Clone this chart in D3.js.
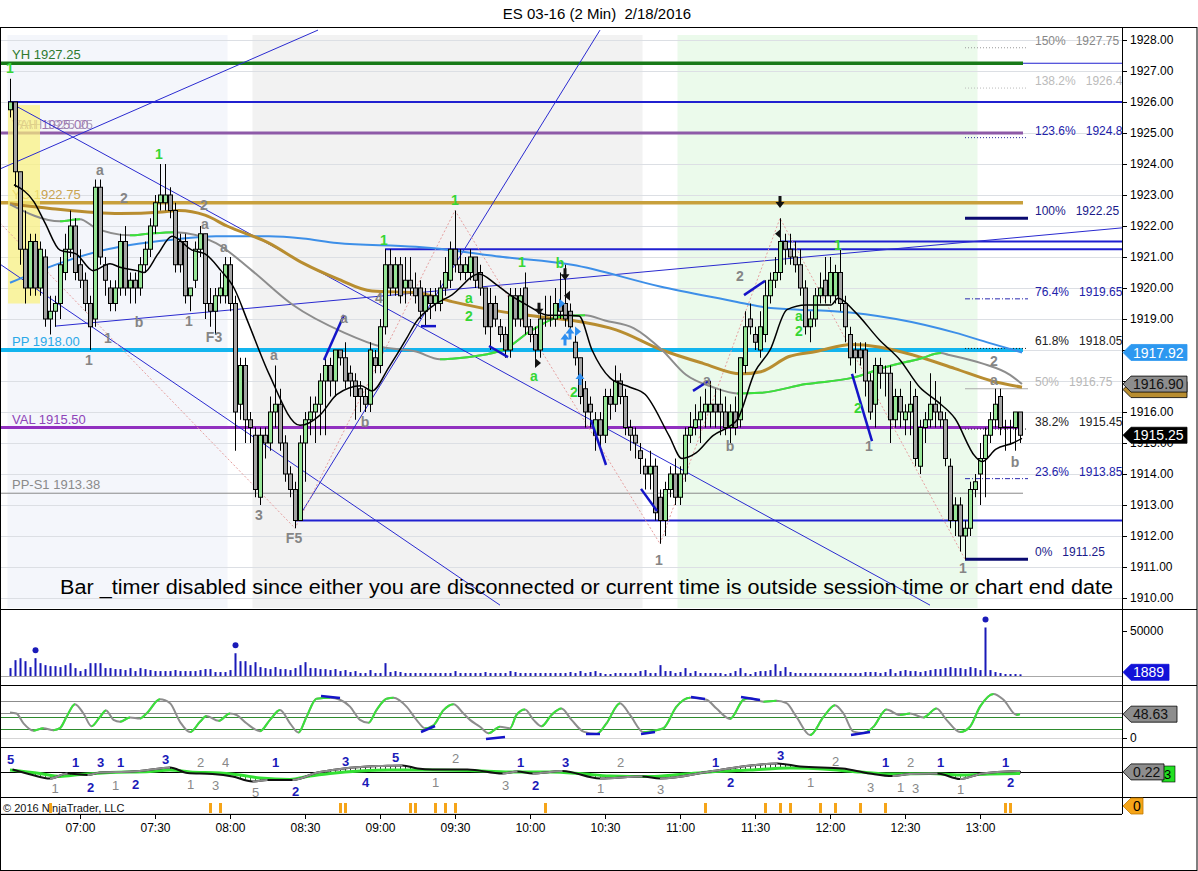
<!DOCTYPE html>
<html><head><meta charset="utf-8">
<script src="https://cdn.jsdelivr.net/npm/d3@7/dist/d3.min.js"></script>
<style>body{margin:0;background:#fff}svg{font-family:"Liberation Sans",Arial,sans-serif}</style>
</head><body><svg id="c" width="1198" height="871"></svg>
<script>
// ================= DATA =================
const chartTitle = "ES 03-16 (2 Min)\u00a0\u00a02/18/2016";
const firstBarTime = new Date(2016,1,18,6,32);   // bars every 2 minutes
const opens  = [1925.75,1926,1923.75,1921.25,1920,1921.5,1920,1921,1919,1919.25,1919.5,1920.5,1921.25,1922,1920.75,1920.25,1919.5,1919,1923.25,1920.75,1920,1919.5,1920,1921.5,1920,1920.25,1920,1920.75,1921.25,1922,1922.75,1922.75,1923,1922.5,1921.5,1921.5,1919.75,1920.25,1921.25,1921.75,1919.5,
1919.25,1919.75,1919.75,1920.75,1919.5,1916.25,1917.5,1915.75,1915.25,1913.25,1915.25,1915,1916,1916.25,1915,1914,1913.5,1912.5,1915,1915.75,1916,1916.25,1917,1917.5,1917,1918,1917.75,1917.25,1917,1916.75,1916.5,1916.25,1917.75,1917.5,1918.75,1920.75,1920,1920.75,1920,
1920.25,1920,1920,1919.25,1919.75,1919.5,1919.5,1920,1920.25,1921.25,1920.75,1920.5,1920.5,1921,1920.5,1920,1919.5,1919.5,1918.75,1918.5,1918,1919.75,1919,1920,1918.75,1918.5,1918,1919,1919,1919,1919.5,1919.5,1919.25,1918.25,1917.75,1916.75,1916.25,1915.25,1915.75,1915.25,
1916.5,1916.25,1917,1916.5,1915.5,1915.25,1914.75,1914.25,1914,1914.25,1913.25,1912.5,1913.5,1914,1913.25,1914,1915.25,1915.5,1915.75,1916,1916,1916.25,1916.25,1916,1915.5,1916,1915.75,1917.5,1919,1918.5,1918,1918.5,1919.75,1920.25,1920.5,1921.5,1921.25,1921,1920.75,1920,
1918.75,1919,1919.75,1920.25,1919.75,1919.75,1920.5,1919.5,1918.5,1918,1918,1918,1917,1916.25,1917.5,1917.25,1917.25,1915.75,1916.5,1915.75,1916,1916.5,1914.25,1915.5,1915.75,1916.25,1916,1915.75,1914.25,1912.5,1913,1912,1912.25,1913.5,1914,1914.5,1915.25,1915.75,1916.5,1915.5,1915.5,1915.5,1916];
const highs  = [1926.75,1926,1923.75,1922.5,1921.75,1921.75,1921.5,1921.25,1919.75,1919.75,1921,1921.75,1922.5,1922.25,1921.25,1920.5,1919.75,1923.5,1923.5,1921,1920.25,1920.25,1921.75,1922,1920.5,1920.5,1921,1921.5,1922.25,1923,1924,1924,1923.25,1922.75,1921.75,1921.75,1920,1921.5,1922,1921.75,1920,
1920,1920.5,1921,1921,1919.75,1917.75,1917.75,1916,1915.5,1915.5,1915.5,1916.5,1917.5,1916.75,1915.25,1914.25,1913.75,1915.25,1916,1916.5,1916.5,1917.25,1917.75,1917.75,1918,1918,1918.25,1917.5,1917.25,1917,1916.75,1918.25,1918,1919,1921.25,1921.25,1921,1921,1921,
1921,1920.5,1920.25,1920,1920,1920,1920.25,1921,1921.5,1922.5,1921.25,1921,1921.25,1921,1920.75,1920,1920,1919.75,1919,1918.75,1920,1920,1920,1920.5,1919,1918.75,1919.25,1919.75,1919.75,1920,1920.5,1920.75,1919.5,1918.5,1917.75,1917,1916.5,1916,1916,1916.75,
1916.75,1917.5,1917.25,1916.75,1915.75,1915.5,1915,1914.5,1914.75,1914.5,1913.5,1913.75,1914.25,1914.5,1914.25,1915.5,1916,1916.25,1916.5,1916.75,1917,1916.75,1916.75,1916.5,1916.25,1916.5,1917.75,1919.25,1919.5,1918.75,1919.25,1920.25,1920.5,1921,1922.25,1921.75,1921.75,1921.5,1921.25,1920.25,
1919.25,1920,1920.5,1921,1921,1920.75,1921.25,1919.75,1918.75,1918.25,1918.25,1918.25,1917.25,1917.75,1917.75,1917.5,1917.5,1916.75,1916.75,1916.25,1917,1916.75,1915.75,1916,1917.25,1917,1916.5,1916,1914.5,1913.25,1913.25,1912.5,1913.75,1914,1915,1915.5,1916,1916.75,1916.75,1915.75,1915.75,1916,1916];
const lows   = [1925.5,1923.25,1920.75,1919.5,1919.75,1919.75,1919.75,1918.75,1918.5,1918.75,1919,1920.25,1921,1920.25,1920,1919.25,1918,1918.75,1920.75,1919.75,1919.25,1919.25,1919.75,1919.75,1919.5,1919.5,1919.75,1920.5,1921,1921.75,1922.5,1922.5,1922.25,1920.5,1920.5,1919.5,1919.25,1920,1921,1919,1918.75,
1918.5,1919.5,1919.5,1919.25,1914.75,1915.75,1915,1915,1913.25,1913,1914.5,1914.75,1915.5,1914.75,1913.75,1913.25,1912.25,1912.5,1913.75,1915.25,1915,1915.25,1915.25,1916.5,1916.5,1917.5,1916.75,1916.5,1915.75,1916,1916,1916,1917.25,1917.25,1918.5,1919.75,1919.75,1919.5,1919.5,
1919.75,1919.5,1919,1918.75,1919,1919.25,1919.25,1919.75,1920,1920.5,1920.25,1920.25,1920.25,1920,1919.75,1918.5,1918,1918.75,1918.25,1917.75,1917.75,1918.75,1918.75,1918.5,1918.25,1917.5,1917.75,1918.75,1918.75,1918.75,1919,1918.75,1918.5,1917.5,1916.25,1915.5,1915.5,1914.75,1914.75,1915,
1915.75,1916,1916.25,1915.25,1914.75,1914.5,1914,1913.5,1913.5,1912.5,1911.75,1912,1913.25,1913,1913,1913.75,1915,1915.25,1915,1915.5,1915.5,1915.5,1915.25,1915.25,1915,1915.25,1915.5,1917.25,1918.5,1918,1917.75,1918.25,1919.5,1920,1920.25,1920.75,1920.75,1920.5,1919.75,1918.5,
1918.25,1918.75,1919.5,1919.5,1919.5,1919.5,1919.25,1918.25,1917.5,1917.25,1917.5,1916.5,1915.75,1915.5,1916.75,1916.5,1915,1915.5,1915.5,1915.25,1915.25,1914.25,1914,1915,1915.5,1915.5,1915.5,1914.25,1912.25,1912,1911.5,1911.25,1912,1913.25,1913,1913.25,1915,1915.5,1915.25,1914.75,1915,1914.75,1915];
const closes = [1926,1923.75,1921.25,1920,1921.5,1920,1921.25,1919,1919.25,1919.5,1920.75,1921.25,1922,1920.5,1920.25,1919.5,1918.75,1923.25,1921,1920.25,1919.5,1920,1921.5,1920,1920.25,1920,1920.75,1921.25,1922,1922.75,1923,1923,1922.5,1920.75,1920.75,1919.75,1920,1921.25,1921.75,1919.5,1919.25,
1919.75,1920,1920.75,1919.5,1916,1917.5,1915.75,1915.5,1913.5,1915.25,1915,1916,1916.25,1915,1914,1913.5,1912.5,1915,1915.75,1916,1916.25,1917,1917.5,1917,1918,1917.75,1917,1917,1916.5,1916.5,1916.25,1918,1917.5,1918.75,1920.75,1920,1920.75,1919.75,1920.25,
1920,1919.75,1919.25,1919.75,1919.5,1919.75,1920,1920.5,1921.25,1920.75,1920.5,1920.75,1921,1920.25,1920,1918.75,1918.75,1919,1918.5,1918,1919.75,1919,1919.75,1918.75,1918.5,1918,1919,1919,1919,1919.5,1919.25,1919,1918.75,1917.75,1916.5,1916,1916,1915.75,1915.25,1916.5,
1916.25,1917,1916.5,1915.5,1915.25,1915,1914.5,1914,1914.25,1912.75,1912.5,1913.5,1914,1913.25,1914,1915.25,1915.5,1915.75,1916,1916.25,1916.25,1916,1916,1915.5,1916,1915.5,1917.75,1918.75,1918.75,1918.25,1918.75,1919.75,1920.25,1920.5,1921.5,1921.25,1921,1920.75,1920,1918.75,
1919,1919.75,1920,1919.75,1920.5,1920.5,1919.5,1918.75,1917.75,1917.75,1917.75,1917,1916,1917.5,1917.25,1917.25,1915.75,1916.5,1916,1916,1916.25,1914.5,1915.5,1915.75,1916.25,1916,1915.75,1914.5,1912.5,1913,1912,1912.25,1913.5,1913.75,1914.5,1915.25,1915.75,1916.25,1915.5,1915.5,1915.5,1916,1915.25];
const volumes = [8800,17600,19800,16500,9900,19800,14300,12100,11000,11000,9900,12100,14300,8800,5500,7700,14300,14300,14300,8800,
8800,7700,7700,6600,8800,5500,8800,7700,6600,5500,5500,5500,5500,6600,5500,5500,5500,5500,6600,7700,
7700,4400,4400,4400,6600,25300,16500,16500,12100,15400,9900,8800,7700,9900,7700,7700,6600,8800,12100,15400,
8800,8800,7700,7700,6600,7700,5500,6600,4400,5500,3300,3300,6600,3300,3300,14300,4400,5500,4400,3300,
3300,3300,3300,3300,3300,3300,3300,3300,3300,5500,3300,3300,3300,3300,3300,4400,3300,3300,3300,3300,5500,4400,
3300,3300,3300,3300,3300,3300,3300,3300,3300,3300,4400,3300,
5500,3300,4400,5500,3300,2200,2200,3300,3300,3300,3300,3300,5500,6600,3300,3300,12100,5500,5500,3300,
4400,8800,3300,5500,3300,3300,3300,3300,3300,2200,3300,5500,8800,3300,2200,4400,5500,5500,6600,13200,
5500,9900,4400,3300,3300,3300,3300,3300,3300,3300,3300,3300,3300,3300,3300,3300,3300,4400,4400,4400,
3300,4400,7700,3300,5500,6600,5500,5500,4400,5500,6600,7700,7700,8800,9900,8800,8800,7700,9900,8800,
6600,53900,6600,4400,3300,2200,2200,2200,1889];
const volumeSpikeBars = [5,45,195];
// moving averages: [bar index, price]
const maBlack = [[0.8,1923.33],[4.8,1922.78],[7,1922.1],[10,1921.22],[13.2,1921.1],[16.6,1920.56],[20,1920.78],[22,1920.67],[25.4,1920.56],[26.8,1920.5],[29.6,1921.1],[32.4,1921.67],[36.4,1921.22],[39,1921.1],[42.2,1920.56],[44.8,1920],[47.6,1918.9],[51.8,1917.23],[58,1915.57],[62,1915.9],[65.4,1916.57],[70.2,1916.85],[72.4,1916.68],[75.8,1917.45],[79.2,1918.34],[81.2,1918.9],[84.8,1919.45],[88.4,1919.78],[93.8,1920.45],[97.2,1920.12],[100,1919.78],[103.4,1919.45],[107.6,1919.12],[111,1919.12],[113.8,1919.1],[116.4,1918],[120,1917.1],[124,1916.8],[127,1916.57],[131.8,1915.24],[134.4,1914.5],[137.2,1914.68],[140.6,1915.24],[144.2,1915.57],[145.4,1915.74],[149,1917.3],[152,1918],[155.4,1919.3],[159.2,1919.45],[164.2,1919.45],[165.6,1919.67],[169,1919.23],[173.8,1918.34],[178,1917.68],[182,1916.79],[185.4,1916.35],[189,1915.79],[193,1914.57],[194.4,1914.4],[197.2,1914.8],[200.6,1915],[202.4,1915.15]];
const maGray = [[0,1922.7],[10,1922.15],[14,1922.22],[17,1921.95],[24,1921.7],[27.6,1921.75],[33,1921.8],[41.2,1921.45],[48.4,1920.56],[56.6,1919.45],[66.8,1918.56],[74.4,1918.1],[81.2,1917.95],[86,1917.7],[88.4,1917.72],[98.6,1918],[104,1918.6],[111,1919.1],[115,1919.12],[119,1918.95],[124.8,1918.7],[130.4,1918],[135.2,1917.2],[140.6,1916.8],[145.4,1916.6],[150,1916.62],[159.2,1916.9],[168.4,1917.1],[175.2,1917.45],[182,1917.72],[186.2,1917.9],[187.6,1917.85],[194.4,1917.57],[200,1917.2],[202.4,1916.9]];
const maGold = [[0,1922.72],[8.4,1922.56],[22,1922.4],[30.4,1922.45],[33.8,1922.5],[39,1922.35],[43.4,1922],[51.8,1921.45],[58.6,1920.8],[65.4,1920.3],[72.4,1919.9],[81.2,1919.85],[88.4,1919.56],[98.6,1919.23],[106.8,1919.06],[114.4,1918.9],[121.2,1918.65],[130.4,1918],[138.6,1917.57],[146.2,1917.23],[150.2,1917.3],[155.8,1917.79],[161.2,1917.95],[168.4,1918.18],[173.8,1918.1],[180.6,1917.84],[189,1917.4],[196.4,1917],[202.4,1916.8]];
const maBlue = [[0,1920.17],[9.6,1920.78],[18.6,1921.22],[24,1921.39],[32.4,1921.56],[41.2,1921.67],[51.8,1921.67],[58.6,1921.6],[65.4,1921.45],[81.2,1921.33],[84.8,1921.28],[98.6,1921],[112.4,1920.75],[130,1920.05],[145.4,1919.55],[150,1919.4],[157.8,1919.3],[164.8,1919.25],[177.2,1919],[189,1918.56],[195.8,1918.23],[202.4,1917.92]];
const levelNames  = ["YH","VAH","YC","PP","VAL","PP-S1"];
const levelPrices = [1927.25,1925.00,1922.75,1918.00,1915.50,1913.38];
const blueLevels = [[1927.25,-2],[1926.0,-0.4],[1921.5,154],[1921.25,75],[1912.5,57]]; // [price, from bar]
const fibPct   = ["150%","138.2%","123.6%","100%","76.4%","61.8%","50%","38.2%","23.6%","0%"];
const fibPrice = [1927.75,1926.45,1924.85,1922.25,1919.65,1918.05,1916.75,1915.45,1913.85,1911.25];
const fibText  = ["1927.75","1926.4","1924.8","1922.25","1919.65","1918.05","1916.75","1915.45","1913.85","1911.25"];
const fibBars = [191,203.6];
const trendLines = [[[-2,1923.84],[61.6,1928.32]],[[57.4,1912.52],[118,1928.32]],[[0.4,1925.94],[184,1909.77]],[[-2,1920.77],[98,1909.77]],[[9,1918.77],[222.4,1921.94]]];
const zigzag = [[-2,1922.1],[57,1912.25],[89,1922.5],[130,1911.75],[154,1922.25],[191,1911.25]];
const divergenceMain = [[[62.8,1917.68],[66.8,1919.13]],[[82.2,1918.77],[85.2,1918.77]],[[95.8,1918.13],[99.6,1917.77]],[[116.2,1915.74],[119.2,1914.29]],[[126.2,1913.52],[129.4,1912.81]],[[136.6,1916.68],[140,1917.03]],[[146.8,1919.77],[151,1920.23]],[[168.4,1917.23],[172.4,1915.06]]];
const grayLabels = [[15.8,1917.68,"1"],[18,1923.81,"a"],[22.8,1922.9,"2"],[25.8,1918.9,"b"],[19.6,1918.39,"1"],[35.8,1918.94,"1"],[38.8,1922.68,"2"],[39,1922.06,"a"],[40.8,1918.42,"F3"],[42.8,1921.32,"a"],[52.8,1917.84,"a"],[49.8,1912.68,"3"],[56.8,1911.94,"F5"],[73.8,1919.68,"4"],[66.8,1919.03,"a"],[71,1915.68,"b"],[129.8,1911.23,"1"],[139.4,1917.03,"a"],[144,1914.9,"b"],[146,1920.39,"2"],[171.8,1914.9,"1"],[196.8,1917.65,"2"],[196.8,1917.03,"a"],[201,1914.39,"b"],[190.6,1910.97,"1"]];
const greenLabels = [[0,1927.1,"1"],[29.8,1924.32,"1"],[74.8,1921.55,"1"],[89,1922.84,"1"],[91.8,1919.68,"a"],[91.8,1919.1,"2"],[102.4,1920.84,"1"],[110,1920.81,"b"],[104.8,1917.16,"a"],[112.8,1916.65,"2"],[157.8,1919.1,"a"],[157.8,1918.61,"2"],[165.6,1921.39,"1"],[169.6,1916.13,"2"]];
const downArrows = [[154,1922.68],[111,1920.35],[105.8,1919.23]];
const leftTriangles = [[111.6,1919.75],[153.8,1921.75]];
const blueUpArrows = [[111,1918.4],[112,1918.6],[114,1917.13]];
const blueRightTriangles = [[110.2,1919.5],[113.4,1918.6]];
const blackRightTriangles = [[105.4,1917.58]];
// oscillator panel
const oscPoints = [[0,52],[1.3,50],[2.7,30],[4.7,15],[6.7,20],[8.7,16],[10,20],[11.3,43],[13,69],[14.7,50],[16.3,24],[18,43],[19.2,56],[20.7,37],[22,33],[24,42],[26,40],[27.3,50],[30,79],[32,71],[34,33],[36,12],[38,33],[39.3,45],[41.7,35],[44,50],[45.3,47],[47.3,30],[50,14],[52,37],[54,57],[56,30],[57.7,11],[59.3,43],[61.3,80],[64,82],[66,78],[68,64],[70,37],[71.7,31],[73.3,57],[75.3,80],[76.7,82],[79.3,64],[81.3,37],[83,20],[84.7,26],[86.7,57],[88.7,69],[90.7,50],[92,37],[94,23],[95.7,9.5],[98,23],[100,20],[101.3,47],[103,58],[104.7,37],[106.3,24],[108.3,47],[110.3,60],[112.3,37],[114.7,13],[117.3,8],[119.3,30],[122,71],[124,47],[126.7,12],[129.3,16],[130.7,20],[133.3,64],[136,82],[139.3,78],[141.3,60],[144,39],[146.7,78],[148,81],[150.7,74],[153.3,76],[155.3,71],[157.3,43],[160,6],[162.7,43],[165,67],[166.7,50],[168.7,13],[170.7,10],[172.7,23],[175.3,58],[178,47],[180,50],[182.7,42],[185.3,60],[187.3,37],[190,12],[192,23],[194,64],[196.7,90],[198.7,78],[201.3,47],[202,48.63]];
const oscLevels = [75,51,43,18,0];
const oscMarks = [[[62.2,85.7],[66,81.6]],[[82.2,12.2],[85,24.5]],[[95.2,-2],[99,2]],[[115.2,8.2],[118,8.2]],[[126.2,8.2],[129,12.2]],[[136.2,83.7],[139,79.6]],[[146.2,83.7],[150,77.6]],[[168.2,6.1],[172,12.2]]];
// third panel (fast / slow)
const fastPoints = [[0.5,0.5],[4.5,-0.6],[8,-1.3],[11.5,-0.3],[15.5,-0.6],[18,-0.1],[24.5,0.1],[30,0.7],[32,0.9],[35.5,-0.2],[40.5,-0.4],[44.5,-0.9],[48.5,-1.9],[51.5,-1.6],[56.5,-1.6],[61.5,-0.1],[64.5,0.4],[71.5,1.1],[74.5,1.2],[78.5,1.3],[81.5,0.7],[84.5,0.5],[91.5,0.5],[98.5,-0.3],[101.5,0.1],[104.5,-0.3],[110.5,0.2],[118,-1.3],[126.5,-0.9],[130,-1.3],[140,0.1],[146.5,1.1],[153.5,1.7],[158,1.1],[166.5,0.7],[172,-0.3],[176.5,-0.8],[180,-0.4],[185.5,-0.3],[190,-1.4],[194.5,-0.3],[202,0.22]];
const slowPoints = [[0,0.4],[6,-0.3],[10,-0.9],[14,-0.5],[20,-0.1],[28,0.1],[32,0.4],[36,0],[42,-0.2],[46,-0.6],[50,-1.2],[56,-1.5],[60,-0.8],[64,-0.3],[70,0.2],[76,0.4],[84,0.4],[92,0.3],[100,0],[108,0],[114,-0.3],[120,-0.8],[128,-0.9],[134,-0.5],[140,0],[148,0.4],[156,0.8],[164,0.5],[170,0],[176,-0.4],[184,-0.3],[190,-0.6],[196,-0.4],[202,-0.3]];
const waveBlue = [[0.1,2.6,"5"],[13.1,2,"1"],[16.1,-3,"2"],[18.1,2,"3"],[22.1,2,"1"],[25.1,-2.4,"2"],[31.1,2.6,"3"],[53.1,2,"1"],[57.1,-3.8,"2"],[67.1,2.2,"3"],[71.1,-2,"4"],[77.1,3,"5"],[102.1,2,"1"],[105.1,-2.6,"2"],[111.1,2,"3"],[141.1,2,"1"],[144.1,-2,"2"],[154.1,3.4,"3"],[175.1,2,"1"],[186.1,2,"1"],[199.1,2,"1"],[200.1,-2,"2"]];
const waveGray = [[9,-3.2,"1"],[21.1,-2.6,"1"],[36.1,-2.4,"1"],[38.1,2,"2"],[41.1,-2.6,"3"],[43.1,2,"4"],[49.1,-4,"5"],[85.1,-2,"1"],[89.1,2.8,"2"],[99.1,-2.6,"3"],[118.1,-3.2,"1"],[122.1,2,"2"],[130.1,-3.4,"3"],[160.1,-2,"1"],[165.1,2.2,"2"],[172.1,-3,"3"],[178.1,-3,"1"],[180.1,2,"2"],[181.1,-3.2,"3"],[190.1,-3.4,"1"]];
// signal ticks in bottom strip
const signalBars = [8,40,42,66,67,80,81,85,87,89,107,139,151,154,156,162,165,170,175,199,200];
const priceTicks = d3.range(1910,1929,1);
const timeTickLabels = ["07:00","07:30","08:00","08:30","09:00","09:30","10:00","10:30","11:00","11:30","12:00","12:30","13:00"];
const sessions = [["06:31","07:59"],["08:09","10:45"],["10:59","12:59"]];
const lastTags = {blueMA:1917.92, grayMA:1916.90, goldMA:1916.82, close:1915.25, vol:1889, osc:48.63, fast:0.22};
const message = "Bar _timer disabled since either you are disconnected or current time is outside session time or chart end date";

// ================= LAYOUT =================
const svg = d3.select("#c");
const AX = 1122, RIGHT = 1197;
const P = {main:[27,608], vol:[609,685], osc:[685,747], fast:[747,797], sig:[797,814], time:[814,870]};
const day = (hm)=>{const [h,m]=hm.split(":").map(Number);return new Date(2016,1,18,h,m);};
const xTime = d3.scaleTime().domain([day("07:00"),day("13:00")]).range([80,980]);
const xb = i => xTime(new Date(firstBarTime.getTime()+i*120000));
const y  = d3.scaleLinear().domain([1910,1928]).range([598,40]);
const yV = d3.scaleLinear().domain([0,50000]).range([676,631]);
const yO = d3.scaleLinear().domain([0,100]).range([738,689]);
const yF = d3.scaleLinear().domain([-5,5]).range([797,747]);
const defs = svg.append("defs");
function clip(id,y0,y1){defs.append("clipPath").attr("id",id).append("rect").attr("x",0).attr("y",y0).attr("width",AX).attr("height",y1-y0);}
clip("cMain",P.main[0],P.main[1]);clip("cVol",P.vol[0],P.vol[1]);clip("cOsc",P.osc[0],P.osc[1]);clip("cFast",P.fast[0]+1,P.fast[1]);

const UP="#96e496", DOWN="#a3a3a3";

function slopeLine(g,pts,xf,yf,upC,downC,w,id,yr){
  const line=d3.line().x(d=>xf(d[0])).y(d=>yf(d[1])).curve(d3.curveMonotoneX);
  g.append("path").attr("d",line(pts)).attr("fill","none").attr("stroke",downC).attr("stroke-width",w);
  const cp=defs.append("clipPath").attr("id",id);
  for(let k=0;k<pts.length-1;k++) if(pts[k+1][1]>pts[k][1])
    cp.append("rect").attr("x",xf(pts[k][0])).attr("width",xf(pts[k+1][0])-xf(pts[k][0])).attr("y",yr[0]).attr("height",yr[1]-yr[0]);
  g.append("g").attr("clip-path",`url(#${id})`).append("path").attr("d",line(pts)).attr("fill","none").attr("stroke",upC).attr("stroke-width",w);
}

// ================= MAIN PANEL =================
const gM = svg.append("g").attr("clip-path","url(#cMain)");
sessions.forEach((s,k)=>{
  gM.append("rect").attr("x",xTime(day(s[0]))).attr("width",xTime(day(s[1]))-xTime(day(s[0])))
    .attr("y",35).attr("height",P.main[1]-35).attr("fill",["#f4f6fb","#f2f2f2","#ebfaeb"][k]);
});
priceTicks.forEach(p=>gM.append("line").attr("x1",0).attr("x2",AX).attr("y1",Math.round(y(p))+0.5).attr("y2",Math.round(y(p))+0.5).attr("stroke","#dcdfe4"));

const lvlStyle = {YH:["#187a18",3.5,"#2f7a2f"],VAH:["#8e5aa8",3,"#9a72b0"],YC:["#c8a03c",3.5,"#c9a450"],PP:["#12b4ee",4,"#2aa8e8"],VAL:["#9130c0",3,"#8e44b8"],"PP-S1":["#8a8a8a",1,"#8a8a8a"]};
const lastX = xb(closes.length-1)+3;
blueLevels.forEach(([p,b],k)=>{
  gM.append("line").attr("x1",xb(b)).attr("x2",AX).attr("y1",y(p)).attr("y2",y(p)).attr("stroke","#2020d0").attr("stroke-width",k===0?1.2:2);
});
levelNames.forEach((n,k)=>{
  const st=lvlStyle[n], p=levelPrices[k];
  gM.append("line").attr("x1",0).attr("x2",lastX).attr("y1",y(p)).attr("y2",y(p)).attr("stroke",st[0]).attr("stroke-width",st[1]);
  gM.append("text").attr("x",12).attr("y",y(p)-4).attr("font-size",13).attr("fill",st[2]).text(n+" "+p.toFixed(2));
});
gM.append("text").attr("x",15).attr("y",y(1925)-4).attr("font-size",13).attr("fill","#a08cb0").attr("opacity",0.8).text("RAH 1925.25");

// fib
const fibStyle = [["#999","1,2",1,"#888"],["#bbb","1,2",1,"#bbb"],["#2a2a9a","1,2",1,"#2222aa"],["#0a0a70",null,3,"#1a1a8a"],["#2a2ab0","5,2,1,2",1,"#2222aa"],["#222","1,2",1,"#222"],["#aaa",null,1,"#b8b8b8"],["#222","1,2",1,"#222"],["#2a2ab0","5,2,1,2",1,"#2222aa"],["#0a0a70",null,3,"#1a1a8a"]];
fibPrice.forEach((p,k)=>{
  const st=fibStyle[k];
  const l=gM.append("line").attr("x1",xb(fibBars[0])).attr("x2",xb(fibBars[1])).attr("y1",y(p)).attr("y2",y(p)).attr("stroke",st[0]).attr("stroke-width",st[2]);
  if(st[1]) l.attr("stroke-dasharray",st[1]);
  gM.append("text").attr("x",1035).attr("y",y(p)-3).attr("font-size",12).attr("fill",st[3]).text(fibPct[k]+"\u00a0\u00a0 "+fibText[k]);
});

// yellow highlight
gM.append("rect").attr("x",xb(-0.4)).attr("width",xb(6)-xb(-0.4)).attr("y",y(1925.9)).attr("height",y(1919.5)-y(1925.9)).attr("fill","#fbf27a").attr("opacity",0.7);

// trend lines & zigzag
trendLines.forEach(t=>gM.append("line").attr("x1",xb(t[0][0])).attr("y1",y(t[0][1])).attr("x2",xb(t[1][0])).attr("y2",y(t[1][1])).attr("stroke","#2a2ad0").attr("stroke-width",1));
gM.append("path").attr("d",d3.line().x(d=>xb(d[0])).y(d=>y(d[1]))(zigzag)).attr("fill","none").attr("stroke","#e6a0a0").attr("stroke-width",1).attr("stroke-dasharray","2,2");

// MAs
const mline=d3.line().x(d=>xb(d[0])).y(d=>y(d[1])).curve(d3.curveMonotoneX);
gM.append("path").attr("d",mline(maBlue)).attr("fill","none").attr("stroke","#3d8fe8").attr("stroke-width",2);
gM.append("path").attr("d",mline(maGold)).attr("fill","none").attr("stroke","#b88d30").attr("stroke-width",3);
slopeLine(gM,maGray,xb,y,"#3ae23a","#8d8d8d",2,"cGrayMA",P.main);

// candles
const gC=gM.append("g");
closes.forEach((c,i)=>{
  const x=Math.round(xb(i)), o=opens[i];
  gC.append("line").attr("x1",x+0.5).attr("x2",x+0.5).attr("y1",y(highs[i])).attr("y2",y(lows[i])).attr("stroke","#000");
  if(o===c){gC.append("line").attr("x1",x-2).attr("x2",x+3).attr("y1",y(c)).attr("y2",y(c)).attr("stroke","#000");return;}
  const t=y(Math.max(o,c)), b=y(Math.min(o,c));
  gC.append("rect").attr("x",x-1.5).attr("y",t).attr("width",4).attr("height",b-t).attr("fill",c>o?UP:DOWN).attr("stroke","#000").attr("stroke-width",1);
});
gM.append("path").attr("d",mline(maBlack)).attr("fill","none").attr("stroke","#000").attr("stroke-width",1.5);

divergenceMain.forEach(d=>gM.append("line").attr("x1",xb(d[0][0])).attr("y1",y(d[0][1])).attr("x2",xb(d[1][0])).attr("y2",y(d[1][1])).attr("stroke","#1414c8").attr("stroke-width",2.5));

grayLabels.forEach(l=>gM.append("text").attr("x",xb(l[0])).attr("y",y(l[1])).attr("dy","0.36em").attr("text-anchor","middle").attr("font-size",14).attr("font-weight","bold").attr("fill","#858585").text(l[2]));
greenLabels.forEach(l=>gM.append("text").attr("x",xb(l[0])).attr("y",y(l[1])).attr("dy","0.36em").attr("text-anchor","middle").attr("font-size",14).attr("font-weight","bold").attr("fill","#35d635").text(l[2]));

downArrows.forEach(a=>{const x=xb(a[0]),yy=y(a[1]);
  gM.append("path").attr("d",`M${x-1.5},${yy-9}h3v6h3l-4.5,6l-4.5,-6h3z`).attr("fill","#111");});
blueUpArrows.forEach(a=>{const x=xb(a[0]),yy=y(a[1]);
  gM.append("path").attr("d",`M${x-1.5},${yy+8}h3v-6h3l-4.5,-6l-4.5,6h3z`).attr("fill","#2f8ff0");});
leftTriangles.forEach(a=>{const x=xb(a[0]),yy=y(a[1]);
  gM.append("path").attr("d",`M${x-4},${yy}l6,-5v10z`).attr("fill","#111");});
blueRightTriangles.forEach(a=>{const x=xb(a[0]),yy=y(a[1]);
  gM.append("path").attr("d",`M${x+4},${yy}l-6,-5v10z`).attr("fill","#2f8ff0");});
blackRightTriangles.forEach(a=>{const x=xb(a[0]),yy=y(a[1]);
  gM.append("path").attr("d",`M${x+4},${yy}l-6,-5v10z`).attr("fill","#111");});

gM.append("text").attr("x",60).attr("y",594).attr("font-size",20).attr("textLength",1053).attr("lengthAdjust","spacingAndGlyphs").attr("fill","#000").text(message);

// ================= VOLUME =================
const gV=svg.append("g").attr("clip-path","url(#cVol)");
gV.append("line").attr("x1",0).attr("x2",AX).attr("y1",yV(0)+0.5).attr("y2",yV(0)+0.5).attr("stroke","#a8a8a8");
volumes.forEach((v,i)=>gV.append("rect").attr("x",Math.round(xb(i))-0.5).attr("width",2).attr("y",yV(v)).attr("height",yV(0)-yV(v)).attr("fill","#1a1ab8"));
volumeSpikeBars.forEach(i=>gV.append("circle").attr("cx",xb(i)+0.5).attr("cy",yV(volumes[i])-8).attr("r",3).attr("fill","#1a1ab8"));

// ================= OSCILLATOR =================
const gO=svg.append("g").attr("clip-path","url(#cOsc)");
const oscCol=["#8c8c8c","#8c8c8c","#2e8b2e","#2e8b2e","#d5d5d5"];
oscLevels.forEach((v,k)=>gO.append("line").attr("x1",0).attr("x2",AX).attr("y1",Math.round(yO(v))+0.5).attr("y2",Math.round(yO(v))+0.5).attr("stroke",oscCol[k]));
slopeLine(gO,oscPoints,xb,yO,"#3ae23a","#8d8d8d",2,"cOscLine",P.osc);
oscMarks.forEach(d=>gO.append("line").attr("x1",xb(d[0][0])).attr("y1",yO(d[0][1])).attr("x2",xb(d[1][0])).attr("y2",yO(d[1][1])).attr("stroke","#1414c8").attr("stroke-width",2.5));

// ================= FAST/SLOW =================
const gF=svg.append("g").attr("clip-path","url(#cFast)");
const fI=d3.scaleLinear().domain(fastPoints.map(d=>d[0])).range(fastPoints.map(d=>d[1])).clamp(true);
const sI=d3.scaleLinear().domain(slowPoints.map(d=>d[0])).range(slowPoints.map(d=>d[1])).clamp(true);
gF.append("line").attr("x1",0).attr("x2",AX).attr("y1",yF(0)+0.5).attr("y2",yF(0)+0.5).attr("stroke","#000");
closes.forEach((c,i)=>{const x=Math.round(xb(i))+0.5;
  gF.append("line").attr("x1",x).attr("x2",x).attr("y1",yF(fI(i))).attr("y2",yF(sI(i))).attr("stroke",fI(i)>sI(i)?"#333":"#2d9a2d").attr("stroke-width",1);});
gF.append("path").attr("d",d3.line().x(d=>xb(d[0])).y(d=>yF(d[1])).curve(d3.curveMonotoneX)(slowPoints)).attr("fill","none").attr("stroke","#33e033").attr("stroke-width",3);
slopeLine(gF,fastPoints,xb,yF,"#8d8d8d","#111",2,"cFastLine",P.fast);
waveBlue.forEach(l=>gF.append("text").attr("x",xb(l[0])).attr("y",yF(l[1])).attr("dy","0.36em").attr("text-anchor","middle").attr("font-size",13).attr("font-weight","bold").attr("fill","#1a1ab8").text(l[2]));
waveGray.forEach(l=>gF.append("text").attr("x",xb(l[0])).attr("y",yF(l[1])).attr("dy","0.36em").attr("text-anchor","middle").attr("font-size",13).attr("fill","#888").text(l[2]));

// ================= SIGNAL STRIP =================
svg.append("line").attr("x1",0).attr("x2",AX).attr("y1",P.sig[1]-0.5).attr("y2",P.sig[1]-0.5).attr("stroke","#d8d8d8");
svg.append("text").attr("x",3).attr("y",812).attr("font-size",11).attr("fill","#111").text("\u00a9 2016 NinjaTrader, LLC");
signalBars.forEach(i=>svg.append("rect").attr("x",Math.round(xb(i))-1).attr("width",3).attr("y",803).attr("height",10).attr("fill","#f5a418"));

// ================= FRAMES & AXES =================
const frame=svg.append("g").attr("stroke","#000").attr("stroke-width",1).attr("fill","none");
frame.append("rect").attr("x",0.5).attr("y",P.main[0]+0.5).attr("width",RIGHT-0.5).attr("height",P.time[1]-P.main[0]);
[P.vol[0],P.osc[0],P.fast[0],P.sig[0]].forEach(yy=>frame.append("line").attr("x1",0).attr("x2",RIGHT).attr("y1",yy+0.5).attr("y2",yy+0.5));
frame.append("line").attr("x1",0).attr("x2",AX).attr("y1",P.time[0]+0.5).attr("y2",P.time[0]+0.5);
frame.append("line").attr("x1",AX+0.5).attr("x2",AX+0.5).attr("y1",P.main[0]).attr("y2",P.time[0]);

// price labels hidden behind the last-value tags are not printed
const hiddenByTags = [1917,1918];
function styleAxis(g){g.select(".domain").remove();g.selectAll("text").attr("font-size",12).attr("fill","#000").style("font-family","'Liberation Sans',Arial,sans-serif");g.selectAll("line").attr("stroke","#000");}
svg.append("g").attr("transform",`translate(${AX},0)`).call(d3.axisRight(y).tickValues(priceTicks).tickFormat(d=>hiddenByTags.includes(d)?"":d3.format(".2f")(d)).tickSize(5).tickPadding(3)).call(styleAxis);
svg.append("g").attr("transform",`translate(${AX},0)`).call(d3.axisRight(yV).tickValues([50000]).tickSize(5).tickPadding(3).tickFormat(d3.format("d"))).call(styleAxis);
svg.append("g").attr("transform",`translate(${AX},0)`).call(d3.axisRight(yO).tickValues([0]).tickSize(5).tickPadding(3)).call(styleAxis);
svg.append("g").attr("transform",`translate(0,${P.time[0]})`).call(d3.axisBottom(xTime).tickValues(timeTickLabels.map(day)).tickFormat(d3.timeFormat("%H:%M")).tickSize(5).tickPadding(4)).call(styleAxis);

function tag(yy,txt,bg,fg,w,border){
  const g=svg.append("g");
  g.append("path").attr("d",`M${AX+1},${yy}l8,-8h${w}v16h-${w}z`).attr("fill",bg).attr("stroke",border||"#000").attr("stroke-width",0.8);
  if(txt) g.append("text").attr("x",AX+11).attr("y",yy).attr("dy","0.36em").attr("font-size",14).attr("fill",fg).text(txt);
  return g;
}
tag(y(lastTags.goldMA)+3,"",  "#b88d30","#000",56);
tag(y(lastTags.grayMA),lastTags.grayMA.toFixed(2),"#8d8d8d","#111",56);
tag(y(lastTags.blueMA),lastTags.blueMA.toFixed(2),"#2d98f0","#fff",56,"#2d98f0");
tag(y(lastTags.close),lastTags.close.toFixed(2),"#000","#fff",56);
tag(yV(lastTags.vol)-2,String(lastTags.vol),"#1212d8","#fff",38,"#1212d8");
tag(yO(lastTags.osc),lastTags.osc.toFixed(2),"#8d8d8d","#111",46);
svg.append("rect").attr("x",AX+40).attr("y",yF(0)-6).attr("width",13).attr("height",16).attr("fill","#22e022").attr("stroke","#000").attr("stroke-width",0.6);
svg.append("text").attr("x",AX+42).attr("y",yF(0)+2).attr("dy","0.36em").attr("font-size",13).attr("fill","#000").text("3");
tag(yF(lastTags.fast)+1,lastTags.fast.toFixed(2),"#8d8d8d","#111",33);
tag(806,"0","#f5a418","#000",12,"#c07800");

svg.append("text").attr("x",597).attr("y",14).attr("dy","0.36em").attr("text-anchor","middle").attr("font-size",15).attr("fill","#000").text(chartTitle);
</script></body></html>
